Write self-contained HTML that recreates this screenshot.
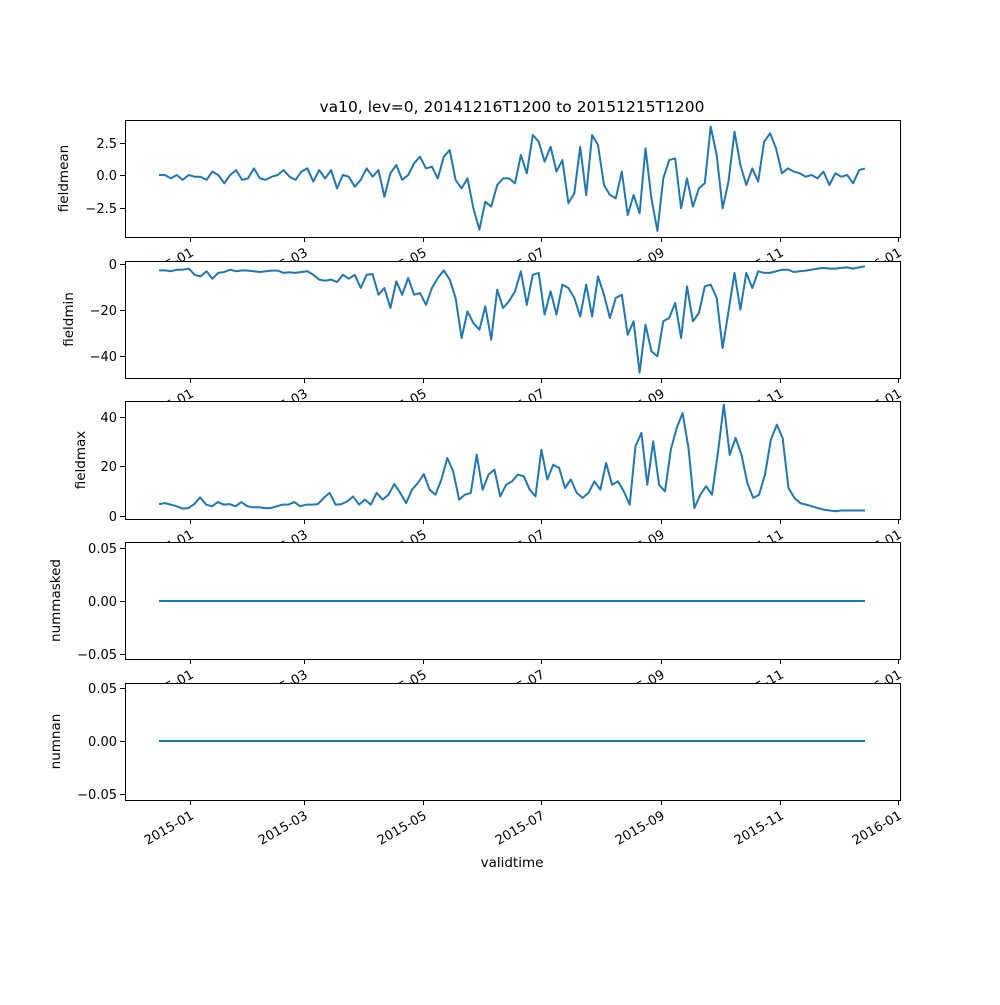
<!DOCTYPE html>
<html><head><meta charset="utf-8"><style>
body{margin:0;background:#fff}
svg text{font-family:"DejaVu Sans","Liberation Sans",sans-serif;fill:#000}
</style></head><body>
<svg id="fig" width="1000" height="1000" viewBox="0 0 1000 1000" xmlns="http://www.w3.org/2000/svg">
<rect width="1000" height="1000" fill="#fff"/>
<text x="512" y="112" text-anchor="middle" font-size="15.5">va10, lev=0, 20141216T1200 to 20151215T1200</text>
<text x="512" y="867" text-anchor="middle" font-size="13.5">validtime</text>
</svg>
<script>
const fieldmean=[0,0,-0.26,0,-0.38,0,-0.13,-0.13,-0.38,0.26,0,-0.64,0,0.38,-0.38,-0.26,0.51,-0.26,-0.38,-0.13,0,0.38,-0.13,-0.38,0.26,0.51,-0.51,0.38,-0.26,0.38,-1.03,0,-0.13,-0.9,-0.38,0.51,-0.13,0.38,-1.67,0.13,0.77,-0.38,0,0.9,1.41,0.51,0.64,-0.26,1.41,1.92,-0.38,-1.03,-0.26,-2.56,-4.2,-2.05,-2.44,-0.77,-0.26,
-0.26,-0.64,1.54,0.13,3.08,2.56,1.03,2.18,0.26,1.15,-2.18,-1.41,2.18,-1.54,3.08,2.31,-0.77,-1.54,-1.79,0.26,-3.08,-1.54,-2.95,2.05,-1.79,-4.3,-0.26,1.15,1.28,-2.56,-0.26,-2.44,-1.03,-0.64,3.72,1.54,-2.56,-0.51,3.33,0.77,-0.77,0.51,-0.51,2.56,3.21,2.05,0.13,0.51,0.26,0.13,-0.13,0,-0.26,0.26,-0.77,0.13,-0.13,0,-0.64,0.38,0.51];
const fieldmin=[-2.8,-2.8,-3.2,-2.5,-2.5,-2.0,-4.7,-5.4,-3.2,-6.4,-3.9,-3.5,-2.5,-3.2,-2.8,-2.9,-3.2,-3.5,-3.2,-2.9,-2.9,-3.9,-3.6,-3.9,-3.5,-3.2,-4.7,-6.8,-7.3,-6.8,-7.9,-4.7,-6.4,-4.7,-10.5,-4.7,-4.4,-13.4,-10.5,-19.2,-7.6,-13.4,-6.1,-13.4,-12.7,-17.8,-10.5,-6.1,-2.8,-6.8,-14.8,-32.3,-20.7,-25.8,-28.7,-18.5,-33,-11.2,-19.2,
-16.3,-11.9,-3.2,-17.8,-4.7,-3.9,-22.1,-11.9,-22.1,-9,-10.5,-14.8,-22.9,-9,-22.9,-5.4,-13.4,-23.6,-14.8,-13.4,-30.9,-25,-47.5,-26.5,-38.1,-40.3,-25,-23.6,-17,-32.3,-9.8,-25,-21.4,-9.8,-9,-14.8,-36.7,-20.7,-3.9,-19.9,-3.9,-10.5,-3.2,-3.9,-3.9,-3.2,-2.5,-2.5,-3.5,-3.2,-2.9,-2.5,-2,-1.7,-2,-2,-1.7,-1.5,-2,-1.5,-1];
const fieldmax=[4.8,5.2,4.6,3.9,3,3.2,4.8,7.5,4.6,3.9,5.6,4.6,4.8,3.9,5.6,3.9,3.5,3.5,3.2,3.2,3.9,4.6,4.6,5.6,3.9,4.6,4.6,4.8,7.3,9.3,4.6,4.8,5.9,7.9,4.6,6.6,4.6,9.3,6.6,8.6,12.9,9.3,5.2,10.6,13.3,16.9,10.6,8.6,14.7,23.4,18,6.6,8.6,9.3,24.7,10.6,16.7,18.7,7.9,12.6,14,
16.7,16,10.6,7.9,26.7,14.7,20.7,19.4,11.3,14.7,9.3,7.3,9.3,14,10.6,21.4,12.6,14,9.9,4.6,28.1,33.5,12.6,30.1,12.6,9.9,26.7,35.5,41.5,27.4,3.2,8.6,12,8.6,25.4,44.9,24.7,31.5,24.7,13.3,7.3,8.6,16.7,30.8,36.8,31.5,11.3,7.3,5.2,4.6,3.9,3.2,2.6,2.2,1.9,2.2,2.2,2.2,2.2,2.2];
const nummasked=[0,0];
const numnan=[0,0];
const xTickLabels=["2015-01","2015-03","2015-05","2015-07","2015-09","2015-11","2016-01"];
const xTickDays=[16,75,136,197,259,320,381];
const NS="http://www.w3.org/2000/svg";
const svg=document.getElementById('fig');
const X0=125,X1=900,D0=159,D1=865,SPAN=364;
function xScale(day){return D0+day*(D1-D0)/SPAN;}
function mk(tag,attrs,parent){const e=document.createElementNS(NS,tag);for(const k in attrs)e.setAttribute(k,attrs[k]);(parent||svg).appendChild(e);return e;}
const panels=[
 {name:'fieldmean',data:fieldmean,top:120,bot:237,v0:0,p0:175,ppu:13,ticks:[2.5,0,-2.5],fmt:v=>v.toFixed(1).replace('-','−'),lx:68},
 {name:'fieldmin',data:fieldmin,top:261,bot:378,v0:0,p0:264,ppu:2.29,ticks:[0,-20,-40],fmt:v=>String(v).replace('-','−'),lx:73},
 {name:'fieldmax',data:fieldmax,top:401,bot:519,v0:0,p0:516,ppu:2.48,ticks:[40,20,0],fmt:v=>String(v),lx:85},
 {name:'nummasked',data:nummasked,top:542,bot:659,v0:0,p0:601,ppu:1060,ticks:[0.05,0,-0.05],fmt:v=>v.toFixed(2).replace('-','−'),lx:60},
 {name:'numnan',data:numnan,top:683,bot:800,v0:0,p0:741,ppu:1060,ticks:[0.05,0,-0.05],fmt:v=>v.toFixed(2).replace('-','−'),lx:60}
];
panels.forEach(p=>{
 const g=mk('g',{});
 
 
 const bg=mk('rect',{x:X0,y:p.top,width:X1-X0,height:p.bot-p.top,fill:'#fff'},g);
 
 
 const yS=v=>p.p0-(v-p.v0)*p.ppu;
 const n=p.data.length;
 let d='';
 p.data.forEach((v,i)=>{const x=xScale(i*SPAN/(n-1));d+=(i?'L':'M')+x.toFixed(1)+' '+yS(v).toFixed(1);});
 const line=mk('path',{d:d,fill:'none',stroke:'#1f77b4','stroke-width':2,'stroke-linejoin':'round'},g);
 
 
 const fr=mk('rect',{x:X0+0.5,y:p.top+0.5,width:X1-X0,height:p.bot-p.top,fill:'none',stroke:'#000','stroke-width':1},g);
 
 
 p.ticks.forEach(t=>{
  const y=Math.round(yS(t))+0.5;
  mk('line',{x1:X0-5,x2:X0,y1:y,y2:y,stroke:'#000','stroke-width':1},g);
  const tx=mk('text',{x:X0-8,y:y+4.5,'text-anchor':'end','font-size':13},g);
  tx.textContent=p.fmt(t);
  
  
 });
 xTickDays.forEach((dd,i)=>{
  const x=Math.round(xScale(dd))+0.5;
  mk('line',{x1:x,x2:x,y1:p.bot,y2:p.bot+5,stroke:'#000','stroke-width':1},g);
  const tx=mk('text',{x:0,y:0,'text-anchor':'end','font-size':13,transform:'translate('+(x+4)+','+(p.bot+18)+') rotate(-30)'},g);
  tx.textContent=xTickLabels[i];
  
  
 });
 const yl=mk('text',{x:0,y:0,'text-anchor':'middle','font-size':13.5,transform:'translate('+p.lx+','+((p.top+p.bot)/2)+') rotate(-90)'},g);
 yl.textContent=p.name;
 
 
});
</script>
</body></html>
